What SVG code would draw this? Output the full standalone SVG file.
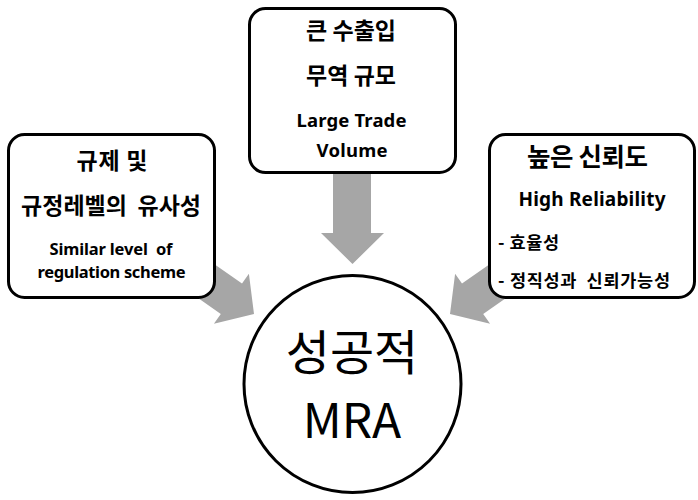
<svg xmlns="http://www.w3.org/2000/svg" width="698" height="500" viewBox="0 0 698 500">
<style>
.box{fill:#fff;stroke:#000;stroke-width:3}
.arrow{fill:#a6a6a6;stroke:none}
.ko{font-family:"Noto Sans CJK KR","Noto Sans",sans-serif;font-weight:bold;font-size:23px;fill:#000;text-anchor:middle}
.en{font-family:"Noto Sans","Open Sans",sans-serif;font-weight:bold;font-size:17px;fill:#000;text-anchor:middle}
.li{font-family:"Noto Sans CJK KR","Noto Sans",sans-serif;font-weight:bold;font-size:17.5px;fill:#000}
.big{font-family:"Noto Sans CJK KR","Noto Sans",sans-serif;font-size:48px;fill:#000;text-anchor:middle}
</style>
<rect width="698" height="500" fill="#fff"/>
<g id="connectors">
<polygon class="arrow" points="333,160 371,160 371,233 384,233 352.5,264 321,233 333,233"/>
<polygon class="arrow" points="192.9,249.2 242,283.6 248.9,273.8 254,314 213.9,323.8 220.8,314 171.7,279.6"/>
<polygon class="arrow" points="511.1,249.2 462,283.6 455.1,273.8 450,314 490.1,323.8 483.2,314 532.3,279.6"/>
</g>
<g id="node-left">
<rect class="box" x="8.5" y="134.5" width="206" height="163" rx="16"/>
<text class="ko" x="112" y="169" textLength="71" lengthAdjust="spacing">규제 및</text>
<text class="ko" x="111" y="214" textLength="180" lengthAdjust="spacing" xml:space="preserve">규정레벨의  유사성</text>
<text class="en" x="111" y="255" style="font-size:16.5px" textLength="123" lengthAdjust="spacing" xml:space="preserve">Similar level  of</text>
<text class="en" x="111.5" y="278" style="font-size:16.5px" textLength="148" lengthAdjust="spacing">regulation scheme</text>
</g>
<g id="node-top">
<rect class="box" x="249.5" y="8.5" width="206" height="164" rx="16"/>
<text class="ko" x="351" y="39" textLength="90" lengthAdjust="spacing">큰 수출입</text>
<text class="ko" x="351" y="84" textLength="90" lengthAdjust="spacing">무역 규모</text>
<text class="en" x="351.5" y="127" style="font-size:18.5px" textLength="110" lengthAdjust="spacing">Large Trade</text>
<text class="en" x="352" y="157" style="font-size:18.5px" textLength="71" lengthAdjust="spacing">Volume</text>
</g>
<g id="node-right">
<rect class="box" x="489.5" y="134.5" width="205" height="163" rx="16"/>
<text class="ko" x="587.5" y="166" style="font-size:25.5px" textLength="121" lengthAdjust="spacing">높은 신뢰도</text>
<text class="en" x="592" y="206" style="font-size:19px" textLength="147" lengthAdjust="spacing">High Reliability</text>
<text class="li" x="498" y="248.5" textLength="61" lengthAdjust="spacing">- 효율성</text>
<text class="li" x="498" y="286.5" textLength="172" lengthAdjust="spacing" xml:space="preserve">- 정직성과  신뢰가능성</text>
</g>
<g id="node-center">
<circle cx="352.5" cy="384" r="108.5" fill="#fff" stroke="#000" stroke-width="3"/>
<text class="big" x="352" y="370">성공적</text>
<text class="big" x="352" y="438">MRA</text>
</g>
</svg>
